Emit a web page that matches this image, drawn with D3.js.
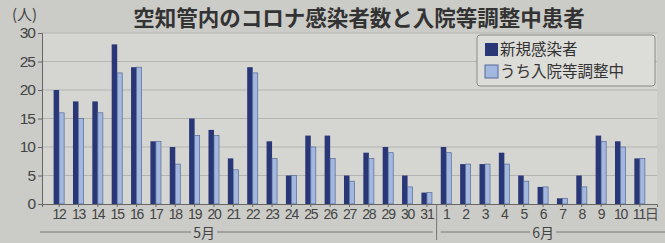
<!DOCTYPE html>
<html>
<head>
<meta charset="utf-8">
<script src="https://cdn.jsdelivr.net/npm/d3@7"></script>
<style>
  body { margin: 0; background: #cbcbc7; }
  svg { display: block; font-family: "Noto Sans CJK JP", "Noto Sans", sans-serif; }
</style>
</head>
<body>
<svg width="665" height="243"></svg>
<script>
// data
const days     = ["12","13","14","15","16","17","18","19","20","21","22","23","24","25","26","27","28","29","30","31",
                  "1","2","3","4","5","6","7","8","9","10","11"];
const months   = ["5月", "6月"];
const newCases = [20,18,18,28,24,11,10,15,13,8,24,11,5,12,12,5,9,10,5,2,
                  10,7,7,9,5,3,1,5,12,11,8];
const hospWait = [16,15,16,23,24,11,7,12,12,6,23,8,5,10,8,4,8,9,3,2,
                  9,7,7,7,4,3,1,3,11,10,8];
const yTicks   = [0,5,10,15,20,25,30];
const seriesNames = ["新規感染者", "うち入院等調整中"];

const svg    = d3.select("svg"),
      margin = {top: 33, right: 8, bottom: 39, left: 42},
      width  = +svg.attr("width")  - margin.left - margin.right,
      height = +svg.attr("height") - margin.top  - margin.bottom,
      x      = d3.scaleBand().domain(d3.range(days.length)).range([0, width]).paddingInner(0.43).paddingOuter(0.6),
      xs     = d3.scaleBand().domain([0, 1]).range([0, x.bandwidth()]),
      y      = d3.scaleLinear().domain([0, 30]).range([height, 0]),
      g      = svg.append("g").attr("transform", `translate(${margin.left},${margin.top})`);

const dark = "#2a3776", light = "#a3b8de";

// plot background
g.append("rect")
  .attr("width", width).attr("height", height)
  .attr("fill", "#d5d5d1");

// grid
g.append("g")
  .selectAll("line")
  .data(yTicks.filter(d => d > 0))
  .enter().append("line")
    .attr("x1", 0).attr("x2", width)
    .attr("y1", d => y(d)).attr("y2", d => y(d))
    .attr("stroke", "#b4b4b0").attr("stroke-width", 1);

// y axis
g.append("g")
  .attr("class", "axis axis-y")
  .call(d3.axisLeft(y).tickValues(yTicks).tickSize(4).tickPadding(3))
  .call(a => a.select(".domain").attr("stroke", "#666"))
  .call(a => a.selectAll(".tick line").attr("stroke", "#666"))
  .call(a => a.selectAll("text").attr("fill", "#444").style("font-size", "15.5px").style("letter-spacing", "-1px"));

// bars
const pairs = g.append("g").selectAll("g")
  .data(days.map((d, i) => i))
  .enter().append("g")
    .attr("transform", i => `translate(${x(i)},0)`);

pairs.append("rect")
  .attr("x", xs(0))
  .attr("y", i => y(newCases[i]))
  .attr("width", xs.bandwidth())
  .attr("height", i => height - y(newCases[i]))
  .attr("fill", dark);

pairs.append("rect")
  .attr("x", xs(1))
  .attr("y", i => y(hospWait[i]))
  .attr("width", xs.bandwidth() - 0.5)
  .attr("height", i => height - y(hospWait[i]))
  .attr("fill", light)
  .attr("stroke", "#55699a").attr("stroke-width", 0.7);

// x axis
const xa = g.append("g")
  .attr("class", "axis axis-x")
  .attr("transform", `translate(0,${height})`)
  .call(d3.axisBottom(x).tickSize(3).tickPadding(2).tickFormat(i => days[i]));
xa.select(".domain").attr("stroke", "#666");
xa.selectAll(".tick line").attr("stroke", "#666");
xa.selectAll("text")
  .attr("fill", "#444")
  .style("font-size", "14px")
  .style("letter-spacing", "-1.2px");
xa.selectAll(".tick").filter(i => i === days.length - 1).select("text")
  .attr("text-anchor", "start").attr("dx", "-7px")
  .text(days[days.length - 1] + "日");

// month brackets
const split = days.indexOf("1");
const sepX = (x(split - 1) + x.bandwidth() + x(split)) / 2;
g.append("line")
  .attr("x1", sepX).attr("x2", sepX)
  .attr("y1", height + 1).attr("y2", height + 36)
  .attr("stroke", "#777");

const monthSpans = [[-2, sepX - 4], [sepX + 4, width + margin.right]];
const monthLabelX = [x(7) + x.bandwidth() + 4, x(25) + x.bandwidth() / 2];
monthSpans.forEach((s, k) => {
  const cx = monthLabelX[k];
  g.append("line").attr("x1", s[0]).attr("x2", cx - 13)
    .attr("y1", height + 28).attr("y2", height + 28).attr("stroke", "#777");
  g.append("line").attr("x1", cx + 13).attr("x2", s[1])
    .attr("y1", height + 28).attr("y2", height + 28).attr("stroke", "#777");
  g.append("text")
    .attr("x", cx).attr("y", height + 34)
    .attr("text-anchor", "middle")
    .attr("fill", "#444")
    .style("font-size", "14px")
    .text(months[k]);
});

// title and unit
svg.append("text")
  .attr("x", 359).attr("y", 26)
  .attr("text-anchor", "middle")
  .attr("fill", "#333")
  .style("font-size", "21.5px").style("font-weight", "bold")
  .text("空知管内のコロナ感染者数と入院等調整中患者");

svg.append("text")
  .attr("x", 12).attr("y", 20)
  .attr("fill", "#444")
  .style("font-size", "15px")
  .text("(人)");

// legend
const lg = svg.append("g").attr("transform", "translate(477,35)");
lg.append("rect")
  .attr("width", 178).attr("height", 51).attr("rx", 3)
  .attr("fill", "#dcdcd8").attr("stroke", "#8a8a86");
const items = lg.selectAll(".item")
  .data(seriesNames)
  .enter().append("g")
    .attr("transform", (d, i) => `translate(8,${7 + i * 22})`);
items.append("rect")
  .attr("y", 1)
  .attr("width", 13).attr("height", 13)
  .attr("fill", (d, i) => i ? light : dark)
  .attr("stroke", (d, i) => i ? "#55699a" : "none");
items.append("text")
  .attr("x", 15).attr("y", 13)
  .attr("fill", "#333")
  .style("font-size", "15.5px")
  .text(d => d);
</script>
</body>
</html>
